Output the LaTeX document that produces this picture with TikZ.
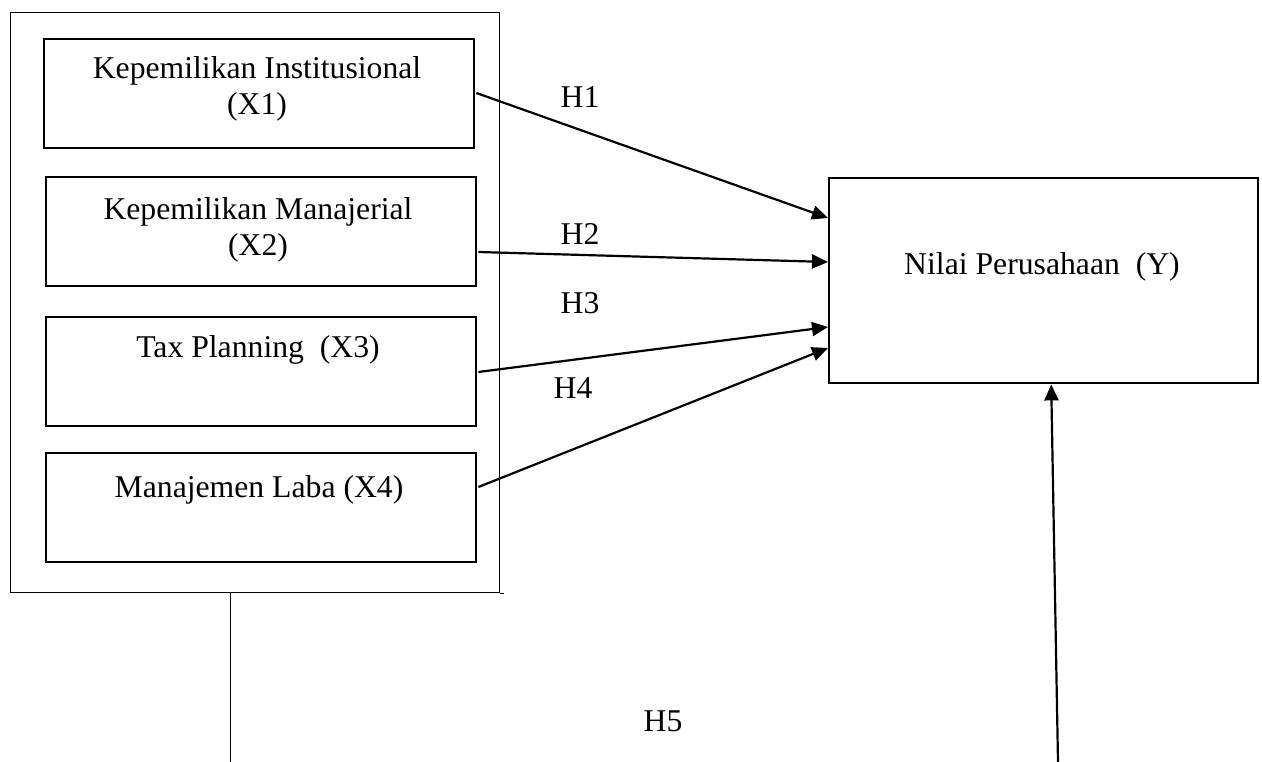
\documentclass[tikz,border=0pt]{standalone}
\usepackage{fontspec}
\setmainfont{Liberation Serif}
\usetikzlibrary{arrows.meta,calc}
\begin{document}
\begin{tikzpicture}[x=1pt,y=-1pt,
  every node/.style={font=\fontsize{31.7pt}{36pt}\selectfont},
  outerbox/.style={draw, line width=1pt, anchor=north west, inner sep=0pt, minimum width=489pt, minimum height=580pt},
  inbox/.style={draw, line width=2.4pt, anchor=north west, inner sep=0pt, minimum width=430pt, minimum height=109pt},
  ybox/.style={draw, line width=2.4pt, anchor=north west, inner sep=0pt, minimum width=429pt, minimum height=205pt},
  txt/.style={align=center, inner sep=0pt},
  hyp/.style={inner sep=0pt},
  conn/.style={line width=2.2pt, -{Triangle[length=16pt,width=14pt]}},
  thin/.style={line width=1pt}]
\useasboundingbox (0,0) rectangle (1262,762);

\node[outerbox] (outer) at (10,12) {};
\node[inbox] (x1) at (43,38) {};
\node[inbox] (x2) at (45,176) {};
\node[inbox] (x3) at (45,316) {};
\node[inbox] (x4) at (45,452) {};
\node[ybox] (y) at (828,177) {};

\node[txt] (t1) at (257,89) {Kepemilikan Institusional\\(X1)};
\node[txt] (t2) at (258,230) {Kepemilikan Manajerial\\(X2)};
\node[txt] (t3) at (258,350) {Tax Planning\ \ (X3)};
\node[txt] (t4) at (259,490) {Manajemen Laba (X4)};
\node[txt] (ty) at (1042,267) {Nilai Perusahaan\ \ (Y)};

\node[hyp] (h1) at (580,97) {H1};
\node[hyp] (h2) at (580,234) {H2};
\node[hyp] (h3) at (580,303) {H3};
\node[hyp] (h4) at (573,388) {H4};
\node[hyp] (h5) at (663,721) {H5};

\draw[conn] ($(x1.north east)+(1,55)$) -- ($(y.north west)+(0,41)$);
\draw[conn] ($(x2.north east)+(1,76)$) -- ($(y.north west)+(0,85)$);
\draw[conn] ($(x3.north east)+(1,56)$) -- ($(y.north west)+(0,150)$);
\draw[conn] ($(x4.north east)+(1,35)$) -- ($(y.north west)+(0,171)$);

\draw[thin] (outer.south east) -- ++(4,0);
\coordinate (lb) at (230,762);
\draw[thin] (outer.south -| lb) -- (lb);
\coordinate (rb) at (1058,762);
\draw[conn] (rb) -- ($(y.south)+(7.5,0)$);
\end{tikzpicture}
\end{document}
